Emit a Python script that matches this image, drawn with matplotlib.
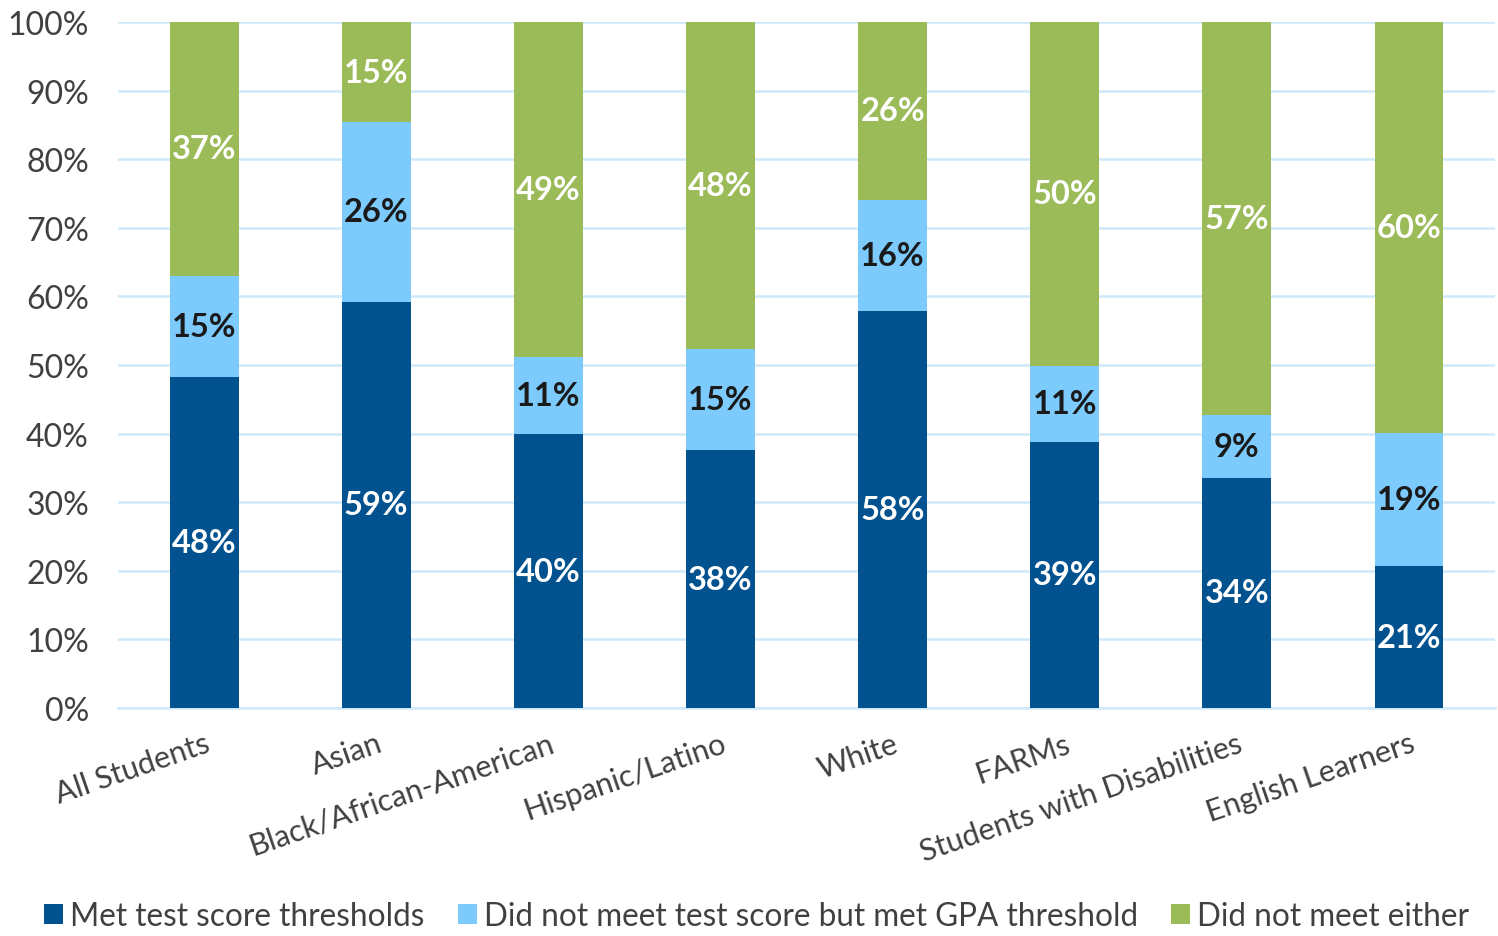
import numpy as np
import matplotlib
matplotlib.use('Agg')
import matplotlib.pyplot as plt

plt.rcParams['font.family'] = ['Lato', 'DejaVu Sans']

#data (percent of students)
groups = ['All Students', 'Asian', 'Black/African-American', 'Hispanic/Latino',
          'White', 'FARMs', 'Students with Disabilities', 'English Learners']
met_test = [48.3, 59.2, 39.9, 37.6, 57.9, 38.8, 33.6, 20.7]
met_gpa = [14.7, 26.2, 11.3, 14.7, 16.2, 11.1, 9.1, 19.4]
met_neither = [37.0, 14.6, 48.8, 47.7, 25.9, 50.1, 57.3, 59.9]

series_names = ['Met test score thresholds',
                'Did not meet test score but met GPA threshold',
                'Did not meet either']
colors = ['#02528F', '#7DCAFD', '#9BBB59']
label_colors = ['white', '#1a1a1a', 'white']

fig = plt.figure(figsize=(14.98, 9.37), dpi=100)
ax = fig.add_axes([0.0788, 0.2433, 0.9192, 0.7322])

x = np.arange(len(groups))
bottom = np.zeros(len(groups))
for vals, name, col, lcol in zip([met_test, met_gpa, met_neither], series_names, colors, label_colors):
    vals = np.array(vals)
    ax.bar(x, vals, width=0.4, bottom=bottom, color=col, label=name, zorder=3)
    for xi, b, v in zip(x, bottom, vals):
        ax.text(xi, b + v / 2, f"{v:.0f}%", ha='center', va='center',
                color=lcol, fontsize=23.5, fontweight='bold', zorder=4)
    bottom += vals

ax.set_xlim(-0.5, len(groups) - 0.5)
ax.set_ylim(0, 100)
ax.set_yticks(np.arange(0, 101, 10))
ax.set_yticklabels([f"{t}%" for t in range(0, 101, 10)])
ax.yaxis.grid(True, color='#CFE8FA', linewidth=1.8, zorder=0)
ax.set_axisbelow(True)
for s in ['top', 'right', 'left']:
    ax.spines[s].set_visible(False)
ax.spines['bottom'].set_color('#CFE8FA')
ax.spines['bottom'].set_linewidth(1.8)
ax.tick_params(axis='both', length=0, labelcolor='#404040')
ax.tick_params(axis='y', pad=21, labelsize=23)

ax.set_xticks(x)
ax.set_xticklabels(groups, rotation=19, ha='right', rotation_mode='anchor')
ax.tick_params(axis='x', pad=15, labelsize=22)

fig.legend(loc='lower center', bbox_to_anchor=(0.505, -0.025), ncol=3, frameon=False,
           fontsize=22.7, handlelength=0.6, handleheight=0.6, handletextpad=0.22,
           columnspacing=1.05, labelcolor='#404040')

plt.savefig('out.png', dpi=100)
